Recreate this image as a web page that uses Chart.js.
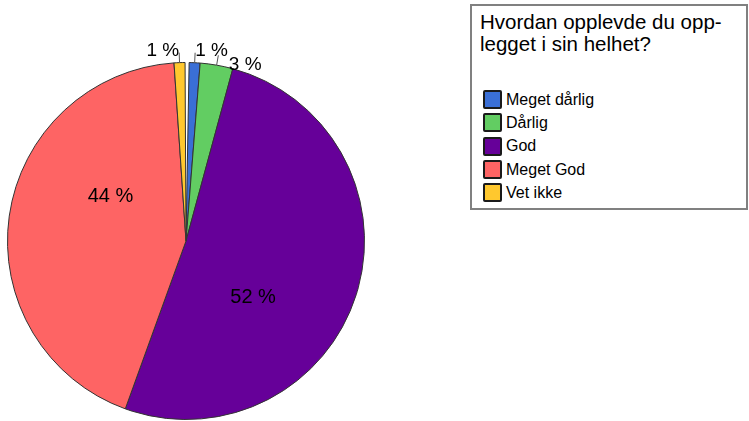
<!DOCTYPE html>
<html>
<head>
<meta charset="utf-8">
<script src="https://cdn.jsdelivr.net/npm/chart.js@4/dist/chart.umd.min.js"></script>
<style>
    body { margin: 0; background: #fff; font-family: "Liberation Sans", Arial, sans-serif; }
    #wrap { position: relative; width: 749px; height: 421px; }
    #pie { position: absolute; left: 0; top: 0; }
    #legend {
        position: absolute; left: 470px; top: 4px; width: 274px; height: 202px;
        border: 2px solid #808080; background: #fff;
    }
    #legend .title { font-size: 20.5px; line-height: 22px; padding: 5px 0 0 8px; color: #000; }
    #legend ul { list-style: none; margin: 0; padding: 0; position: absolute; left: 11px; top: 82px; }
    #legend li { height: 23.3px; display: flex; align-items: center; font-size: 16px; color: #000; }
    #legend .box {
        width: 15px; height: 15px; border: 2px solid #1a1a1a; border-radius: 2px;
        margin-right: 4px; box-sizing: content-box;
    }
</style>
</head>
<body>
<div id="wrap">
    <canvas id="pie" width="749" height="421"></canvas>
    <div id="legend">
        <div class="title">Hvordan opplevde du opp-<br>legget i sin helhet?</div>
        <ul id="legendItems"></ul>
    </div>
</div>
<script>
const categories = ["Meget dårlig", "Dårlig", "God", "Meget God", "Vet ikke"];
const percents = [1, 3, 52, 44, 1];
const colors = ["#3a6fd6", "#62cd62", "#660099", "#fe6464", "#ffc82e"];

// percentage labels: inside for big slices, outside with a short leader for small ones
const sliceLabels = {
    id: "sliceLabels",
    afterDatasetsDraw(chart) {
        const ctx = chart.ctx;
        const arcs = chart.getDatasetMeta(0).data;
        ctx.save();
        ctx.fillStyle = "#000";
        let prev = null;
        arcs.forEach((arc, i) => {
            const text = percents[i] + " %";
            const mid = (arc.startAngle + arc.endAngle) / 2;
            const r = arc.outerRadius;
            if (percents[i] >= 10) {
                const a = mid + 0.39;
                const x = arc.x + Math.cos(a) * r * 0.49;
                const y = arc.y + Math.sin(a) * r * 0.49;
                ctx.font = "20px 'Liberation Sans', Arial, sans-serif";
                ctx.textAlign = "center";
                ctx.textBaseline = "middle";
                ctx.fillText(text, x, y);
                return;
            }
            ctx.font = "19px 'Liberation Sans', Arial, sans-serif";
            ctx.textBaseline = "alphabetic";
            const w = ctx.measureText(text).width;
            const x0 = arc.x + Math.cos(mid) * r;
            const y0 = arc.y + Math.sin(mid) * r;
            const x1 = arc.x + Math.cos(mid) * (r + 10);
            const y1 = arc.y + Math.sin(mid) * (r + 10);
            ctx.strokeStyle = "#555";
            ctx.lineWidth = 1;
            ctx.beginPath();
            ctx.moveTo(x0, y0);
            ctx.lineTo(x1, y1);
            ctx.stroke();
            let left = Math.cos(mid) < -0.02 ? x1 - w : x1;
            let base = y1 + 3;
            if (prev && left < prev.right && Math.abs(base - prev.base) < 14) {
                left = prev.right + 1;
                base += 12;
            }
            ctx.textAlign = "left";
            ctx.fillText(text, left, base);
            prev = { right: left + w, base: base };
        });
        ctx.restore();
    }
};

const chart = new Chart(document.getElementById("pie"), {
    type: "pie",
    data: {
        labels: categories,
        datasets: [{
            data: percents,
            backgroundColor: colors,
            borderColor: "#333",
            borderWidth: 1,
        }],
    },
    options: {
        responsive: false,
        animation: false,
        rotation: 1,
        circumference: 358.7,
        layout: { padding: { left: 7, top: 62, right: 384, bottom: 1 } },
        plugins: {
            legend: { display: false },
            tooltip: { enabled: false },
        },
    },
    plugins: [sliceLabels],
});

// html legend built from the chart's own legend items
const list = document.getElementById("legendItems");
chart.options.plugins.legend.labels.generateLabels(chart).forEach((item) => {
    const li = document.createElement("li");
    const box = document.createElement("span");
    box.className = "box";
    box.style.background = item.fillStyle;
    li.appendChild(box);
    li.appendChild(document.createTextNode(item.text));
    list.appendChild(li);
});
</script>
</body>
</html>
